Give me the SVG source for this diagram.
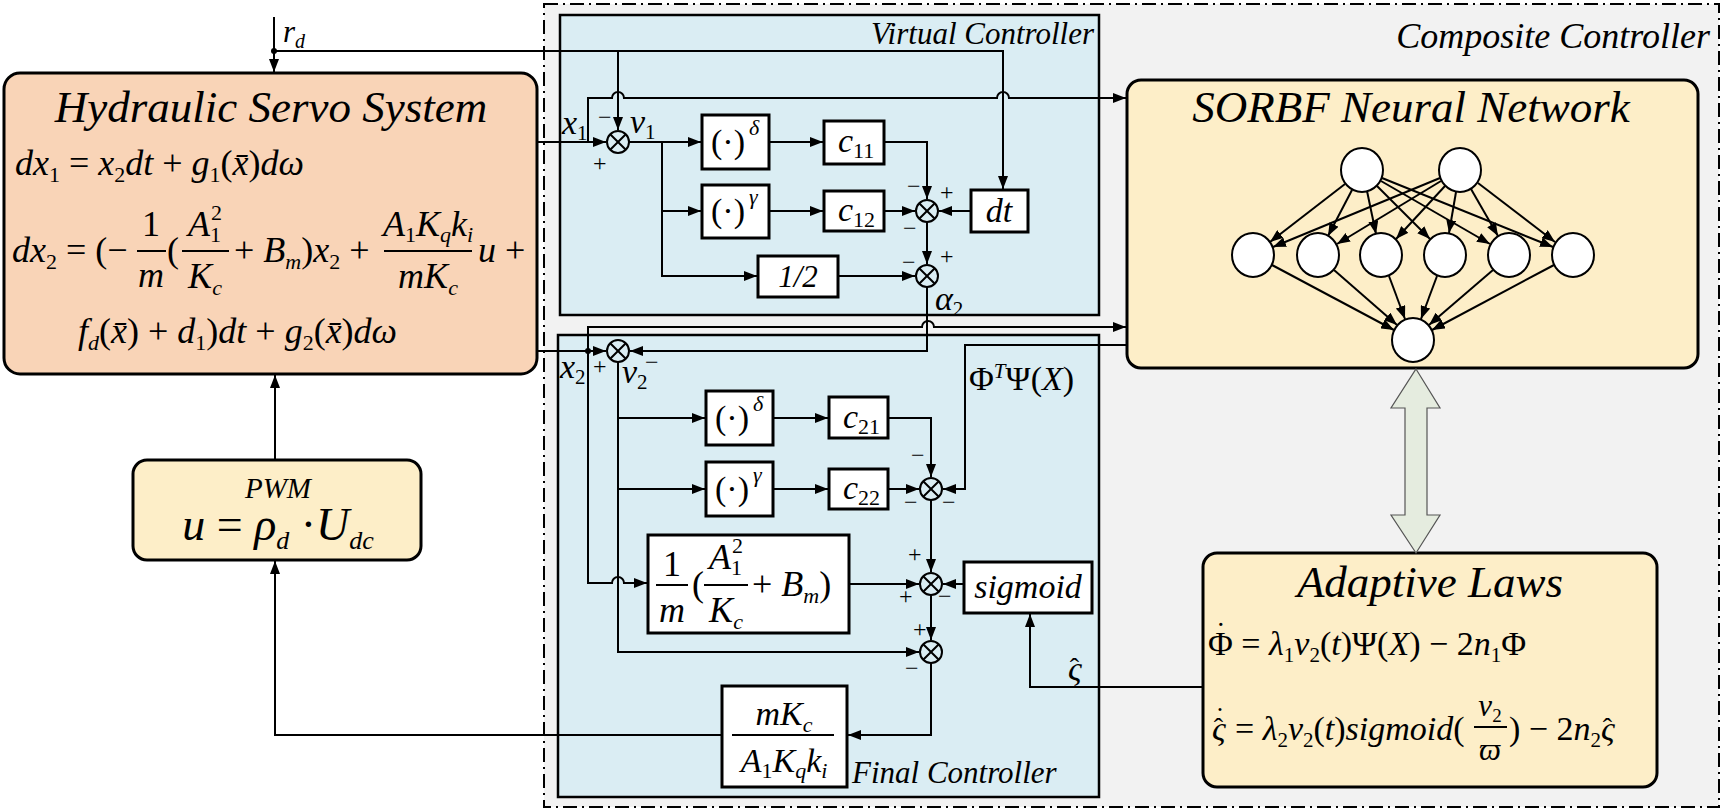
<svg xmlns="http://www.w3.org/2000/svg" xmlns:xlink="http://www.w3.org/1999/xlink" width="1725" height="810" viewBox="0 0 1725 810" font-family="Liberation Serif, Times New Roman, serif">
<defs>
<marker id="ah" markerUnits="userSpaceOnUse" markerWidth="14" markerHeight="10" refX="13" refY="5" orient="auto"><path d="M0,0 L13,5 L0,10 z" fill="#000"/></marker>
<g id="sum"><circle r="11" fill="none" stroke="#000" stroke-width="2"/><path d="M-7.8,-7.8 L7.8,7.8 M-7.8,7.8 L7.8,-7.8" stroke="#000" stroke-width="2"/></g>
</defs>
<rect width="1725" height="810" fill="#fff"/>
<g font-style="italic" fill="#000">

<g id="composite">
<rect x="544" y="4" width="1175" height="803" fill="#f2f2f2" stroke="#000" stroke-width="2" stroke-dasharray="14 5 2 5"/>
<text x="1710" y="48" font-size="36" text-anchor="end">Composite Controller</text>
</g>
<g id="virtual">
<rect x="560" y="15" width="539" height="300" fill="#daedf3" stroke="#000" stroke-width="2.5"/>
<text x="1094" y="44" font-size="31" text-anchor="end">Virtual Controller</text>
</g>
<g id="final">
<rect x="558" y="335" width="541" height="462" fill="#daedf3" stroke="#000" stroke-width="2.5"/>
<text x="852" y="783" font-size="31">Final Controller</text>
</g>

<g id="hydraulic">
<rect x="4" y="73" width="533" height="301" rx="16" fill="#f9d4b7" stroke="#000" stroke-width="3"/>
<text x="271" y="122" font-size="45" text-anchor="middle">Hydraulic Servo System</text>
<text x="15" y="175" font-size="36">dx<tspan font-size="22" dy="7" font-style="normal">1</tspan><tspan dy="-7" font-style="normal"> = </tspan>x<tspan font-size="22" dy="7" font-style="normal">2</tspan><tspan dy="-7">dt</tspan><tspan font-style="normal"> + </tspan>g<tspan font-size="22" dy="7" font-style="normal">1</tspan><tspan dy="-7" font-style="normal">(</tspan>x̄<tspan font-style="normal">)</tspan>dω</text>
<text x="12" y="262" font-size="36">dx<tspan font-size="22" dy="7" font-style="normal">2</tspan><tspan dy="-7" font-style="normal"> = (−</tspan></text>
<text x="151" y="236" font-size="36" font-style="normal" text-anchor="middle">1</text>
<line x1="137" y1="251" x2="166" y2="251" stroke="#000" stroke-width="2"/>
<text x="151" y="287" font-size="36" text-anchor="middle">m</text>
<text x="167" y="262" font-size="36" font-style="normal">(</text>
<text x="205" y="236" font-size="36" text-anchor="middle">A<tspan font-size="22" dy="6" font-style="normal">1</tspan><tspan font-size="22" dy="-22" dx="-10" font-style="normal">2</tspan></text>
<line x1="182" y1="251" x2="229" y2="251" stroke="#000" stroke-width="2"/>
<text x="205" y="288" font-size="36" text-anchor="middle">K<tspan font-size="22" dy="7">c</tspan></text>
<text x="234" y="262" font-size="36"><tspan font-style="normal">+ </tspan>B<tspan font-size="22" dy="7">m</tspan><tspan dy="-7" font-style="normal">)</tspan>x<tspan font-size="22" dy="7" font-style="normal">2</tspan><tspan dy="-7" font-style="normal"> +</tspan></text>
<text x="428" y="236" font-size="36" text-anchor="middle">A<tspan font-size="22" dy="6" font-style="normal">1</tspan><tspan dy="-6">K</tspan><tspan font-size="22" dy="6">q</tspan><tspan dy="-6">k</tspan><tspan font-size="22" dy="6">i</tspan></text>
<line x1="384" y1="251" x2="472" y2="251" stroke="#000" stroke-width="2"/>
<text x="428" y="288" font-size="36" text-anchor="middle">mK<tspan font-size="22" dy="7">c</tspan></text>
<text x="478" y="262" font-size="36">u<tspan font-style="normal"> +</tspan></text>
<text x="78" y="343" font-size="36">f<tspan font-size="22" dy="7">d</tspan><tspan dy="-7" font-style="normal">(</tspan>x̄<tspan font-style="normal">) + </tspan>d<tspan font-size="22" dy="7" font-style="normal">1</tspan><tspan dy="-7" font-style="normal">)</tspan>dt<tspan font-style="normal"> + </tspan>g<tspan font-size="22" dy="7" font-style="normal">2</tspan><tspan dy="-7" font-style="normal">(</tspan>x̄<tspan font-style="normal">)</tspan>dω</text>
</g>

<g id="pwm">
<rect x="133" y="460" width="288" height="100" rx="14" fill="#fdeec8" stroke="#000" stroke-width="3"/>
<text x="278" y="498" font-size="29" text-anchor="middle">PWM</text>
<text x="278" y="540" font-size="46" text-anchor="middle">u<tspan font-style="normal"> = </tspan>ρ<tspan font-size="26" dy="9">d</tspan><tspan dy="-9" font-style="normal"> ·</tspan>U<tspan font-size="26" dy="9">dc</tspan></text>
</g>

<g id="sorbf">
<rect x="1127" y="80" width="571" height="288" rx="14" fill="#fdeec8" stroke="#000" stroke-width="3"/>
<text x="1411" y="122" font-size="45" text-anchor="middle">SORBF Neural Network</text>
<g fill="#fff" stroke="#000" stroke-width="2">
<ellipse cx="1362" cy="170" rx="21" ry="22"/><ellipse cx="1460" cy="170" rx="21" ry="22"/>
<ellipse cx="1253" cy="255" rx="21" ry="22"/><ellipse cx="1318" cy="255" rx="21" ry="22"/><ellipse cx="1381" cy="255" rx="21" ry="22"/><ellipse cx="1445" cy="255" rx="21" ry="22"/><ellipse cx="1509" cy="255" rx="21" ry="22"/><ellipse cx="1573" cy="255" rx="21" ry="22"/>
<ellipse cx="1413" cy="340" rx="21" ry="22"/>
</g>
<g stroke="#000" stroke-width="2" fill="none" marker-end="url(#ah)">
<path d="M1345,184 L1270,242"/><path d="M1352,190 L1328,236"/><path d="M1367,191 L1376,234"/><path d="M1377,186 L1430,239"/><path d="M1381,181 L1490,244"/><path d="M1382,178 L1553,247"/>
<path d="M1440,178 L1273,247"/><path d="M1441,181 L1337,244"/><path d="M1445,186 L1396,239"/><path d="M1456,192 L1449,233"/><path d="M1471,189 L1498,236"/><path d="M1478,183 L1555,242"/>
<path d="M1272,265 L1394,330"/><path d="M1334,270 L1397,325"/><path d="M1389,276 L1405,319"/><path d="M1437,276 L1421,319"/><path d="M1493,270 L1429,325"/><path d="M1554,265 L1432,330"/>
</g>
</g>

<g id="adaptive">
<rect x="1203" y="553" width="454" height="234" rx="14" fill="#fdeec8" stroke="#000" stroke-width="3"/>
<text x="1430" y="597" font-size="45" text-anchor="middle">Adaptive Laws</text>
<text x="1208" y="655" font-size="34"><tspan font-style="normal">Φ</tspan><tspan font-style="normal" dx="-17" dy="-12" font-size="30">˙</tspan><tspan font-style="normal" dx="7" dy="12"> = </tspan>λ<tspan font-size="21" dy="7" font-style="normal">1</tspan><tspan dy="-7">ν</tspan><tspan font-size="21" dy="7" font-style="normal">2</tspan><tspan dy="-7" font-style="normal">(</tspan>t<tspan font-style="normal">)Ψ(</tspan>X<tspan font-style="normal">) − 2</tspan>n<tspan font-size="21" dy="7" font-style="normal">1</tspan><tspan dy="-7" font-style="normal">Φ</tspan></text>
<text x="1212" y="740" font-size="34">ς<tspan font-style="normal" dx="-12" dy="-3" font-size="28">ˆ</tspan><tspan font-style="normal" dx="-8" dy="-11" font-size="28">˙</tspan><tspan font-style="normal" dx="2" dy="14"> = </tspan>λ<tspan font-size="21" dy="7" font-style="normal">2</tspan><tspan dy="-7">ν</tspan><tspan font-size="21" dy="7" font-style="normal">2</tspan><tspan dy="-7" font-style="normal">(</tspan>t<tspan font-style="normal">)</tspan>sigmoid<tspan font-style="normal">(</tspan></text>
<text x="1490" y="716" font-size="31" text-anchor="middle">ν<tspan font-size="19" dy="6" font-style="normal">2</tspan></text>
<line x1="1474" y1="727" x2="1507" y2="727" stroke="#000" stroke-width="2"/>
<text x="1490" y="760" font-size="31" text-anchor="middle">ϖ</text>
<text x="1509" y="740" font-size="34"><tspan font-style="normal">) − 2</tspan>n<tspan font-size="21" dy="7" font-style="normal">2</tspan><tspan dy="-7">ς</tspan><tspan font-style="normal" dx="-12" dy="-3" font-size="28">ˆ</tspan></text>
</g>

<g id="biarrow">
<path d="M1416,369 L1440,408 L1427,408 L1427,515 L1440,515 L1416,553 L1391,515 L1405,515 L1405,408 L1391,408 Z" fill="#e5ecdf" stroke="#555" stroke-width="1.2"/>
</g>

<g id="blocks">
<g id="pd1"><rect x="702" y="115" width="67" height="54" fill="#fff" stroke="#000" stroke-width="3"/><text x="728" y="153" font-size="34" text-anchor="middle" font-style="normal">(·)</text><text x="749" y="135" font-size="22">δ</text></g>
<g id="c11"><rect x="824" y="121" width="60" height="43" fill="#fff" stroke="#000" stroke-width="3"/><text x="838" y="152" font-size="34">c<tspan font-size="22" dy="6" font-style="normal">11</tspan></text></g>
<g id="pg1"><rect x="702" y="185" width="67" height="53" fill="#fff" stroke="#000" stroke-width="3"/><text x="728" y="222" font-size="34" text-anchor="middle" font-style="normal">(·)</text><text x="749" y="204" font-size="22">γ</text></g>
<g id="c12"><rect x="824" y="191" width="60" height="40" fill="#fff" stroke="#000" stroke-width="3"/><text x="838" y="221" font-size="34">c<tspan font-size="22" dy="6" font-style="normal">12</tspan></text></g>
<g id="dt"><rect x="971" y="190" width="57" height="42" fill="#fff" stroke="#000" stroke-width="3"/><text x="999" y="222" font-size="34" text-anchor="middle">dt</text></g>
<g id="half"><rect x="758" y="256" width="80" height="41" fill="#fff" stroke="#000" stroke-width="3"/><text x="798" y="287" font-size="31" text-anchor="middle">1/2</text></g>
<g id="pd2"><rect x="706" y="391" width="67" height="54" fill="#fff" stroke="#000" stroke-width="3"/><text x="732" y="429" font-size="34" text-anchor="middle" font-style="normal">(·)</text><text x="753" y="411" font-size="22">δ</text></g>
<g id="c21"><rect x="829" y="397" width="59" height="41" fill="#fff" stroke="#000" stroke-width="3"/><text x="843" y="428" font-size="34">c<tspan font-size="22" dy="6" font-style="normal">21</tspan></text></g>
<g id="pg2"><rect x="706" y="462" width="67" height="54" fill="#fff" stroke="#000" stroke-width="3"/><text x="732" y="500" font-size="34" text-anchor="middle" font-style="normal">(·)</text><text x="753" y="482" font-size="22">γ</text></g>
<g id="c22"><rect x="829" y="469" width="59" height="40" fill="#fff" stroke="#000" stroke-width="3"/><text x="843" y="499" font-size="34">c<tspan font-size="22" dy="6" font-style="normal">22</tspan></text></g>
<g id="lin"><rect x="648" y="535" width="201" height="98" fill="#fff" stroke="#000" stroke-width="3"/>
<text x="672" y="576" font-size="36" font-style="normal" text-anchor="middle">1</text>
<line x1="656" y1="585" x2="688" y2="585" stroke="#000" stroke-width="2"/>
<text x="672" y="622" font-size="36" text-anchor="middle">m</text>
<text x="692" y="596" font-size="36" font-style="normal">(</text>
<text x="726" y="569" font-size="36" text-anchor="middle">A<tspan font-size="22" dy="6" font-style="normal">1</tspan><tspan font-size="22" dy="-22" dx="-10" font-style="normal">2</tspan></text>
<line x1="704" y1="585" x2="748" y2="585" stroke="#000" stroke-width="2"/>
<text x="726" y="622" font-size="36" text-anchor="middle">K<tspan font-size="22" dy="7">c</tspan></text>
<text x="752" y="596" font-size="36"><tspan font-style="normal">+ </tspan>B<tspan font-size="22" dy="7">m</tspan><tspan dy="-7" font-style="normal">)</tspan></text>
</g>
<g id="sigmoid"><rect x="964" y="562" width="128" height="51" fill="#fff" stroke="#000" stroke-width="3"/><text x="1028" y="598" font-size="34" text-anchor="middle">sigmoid</text></g>
<g id="gain"><rect x="722" y="686" width="125" height="101" fill="#fff" stroke="#000" stroke-width="3"/>
<text x="784" y="725" font-size="34" text-anchor="middle">mK<tspan font-size="22" dy="7">c</tspan></text>
<line x1="732" y1="735" x2="834" y2="735" stroke="#000" stroke-width="2"/>
<text x="784" y="772" font-size="34" text-anchor="middle">A<tspan font-size="22" dy="6" font-style="normal">1</tspan><tspan dy="-6">K</tspan><tspan font-size="22" dy="6">q</tspan><tspan dy="-6">k</tspan><tspan font-size="22" dy="6">i</tspan></text>
</g>
</g>

<g id="sums">
<use xlink:href="#sum" href="#sum" x="618" y="142"/>
<use xlink:href="#sum" href="#sum" x="927" y="211"/>
<use xlink:href="#sum" href="#sum" x="927" y="276"/>
<use xlink:href="#sum" href="#sum" x="618" y="351"/>
<use xlink:href="#sum" href="#sum" x="931" y="489"/>
<use xlink:href="#sum" href="#sum" x="931" y="584"/>
<use xlink:href="#sum" href="#sum" x="931" y="652"/>
</g>

<g id="connectors">
<g stroke="#000" stroke-width="2" fill="none" marker-end="url(#ah)">
<path d="M274,17 V72"/>
<path d="M274,51 H1003 V189"/>
<path d="M618,51 V130"/>
<path d="M537,142 H606"/>
<path d="M588,142 V98 H612 A6,6 0 0 1 624,98 H997 A6,6 0 0 1 1009,98 H1126"/>
<path d="M629,142 H701"/>
<path d="M769,142 H823"/>
<path d="M884,142 H927 V199"/>
<path d="M662,142 V276 H757"/>
<path d="M662,211 H701"/>
<path d="M769,211 H823"/>
<path d="M884,211 H915"/>
<path d="M971,211 H939"/>
<path d="M927,222 V264"/>
<path d="M838,276 H915"/>
<path d="M927,287 V351 H630"/>
<path d="M537,351 H606"/>
<path d="M588,351 V327 H922 A6,6 0 0 1 934,327 H1126"/>
<path d="M588,351 V583 H612 A6,6 0 0 1 624,583 H647"/>
<path d="M618,362 V652 H919"/>
<path d="M618,418 H705"/>
<path d="M618,489 H705"/>
<path d="M773,418 H828"/>
<path d="M773,489 H828"/>
<path d="M888,418 H931 V477"/>
<path d="M888,489 H919"/>
<path d="M1127,345 H965 V489 H943"/>
<path d="M931,500 V572"/>
<path d="M849,584 H919"/>
<path d="M964,584 H943"/>
<path d="M931,595 V640"/>
<path d="M931,663 V735 H848"/>
<path d="M722,735 H275 V561"/>
<path d="M275,460 V375"/>
<path d="M1203,687 H1030 V614"/>
</g>
<circle cx="274" cy="51" r="3" fill="#000"/>
<circle cx="588" cy="351" r="3" fill="#000"/>
</g>

<g id="labels">
<text x="283" y="42" font-size="31">r<tspan font-size="20" dy="6">d</tspan></text>
<text x="562" y="134" font-size="34">x<tspan font-size="21" dy="6" font-style="normal">1</tspan></text>
<text x="630" y="133" font-size="34">ν<tspan font-size="21" dy="6" font-style="normal">1</tspan></text>
<text x="560" y="378" font-size="34">x<tspan font-size="21" dy="6" font-style="normal">2</tspan></text>
<text x="622" y="383" font-size="34">ν<tspan font-size="21" dy="6" font-style="normal">2</tspan></text>
<text x="935" y="310" font-size="34">α<tspan font-size="21" dy="6" font-style="normal">2</tspan></text>
<text x="969" y="390" font-size="34"><tspan font-style="normal">Φ</tspan><tspan font-size="21" dy="-12">T</tspan><tspan dy="12" font-style="normal">Ψ(</tspan>X<tspan font-style="normal">)</tspan></text>
<text x="1068" y="680" font-size="34">ς<tspan font-style="normal" dx="-12" dy="-3" font-size="28">ˆ</tspan></text>
<g font-size="24" font-style="normal">
<text x="598" y="125">−</text><text x="593" y="171">+</text>
<text x="907" y="194">−</text><text x="940" y="200">+</text><text x="903" y="236">−</text>
<text x="902" y="270">−</text><text x="940" y="264">+</text>
<text x="593" y="374">+</text><text x="645" y="370">−</text>
<text x="911" y="463">−</text><text x="904" y="510">−</text><text x="942" y="510">−</text>
<text x="908" y="562">+</text><text x="899" y="604">+</text><text x="938" y="604">−</text>
<text x="913" y="637">+</text><text x="905" y="676">−</text>
</g>
</g>
</g>
</svg>
